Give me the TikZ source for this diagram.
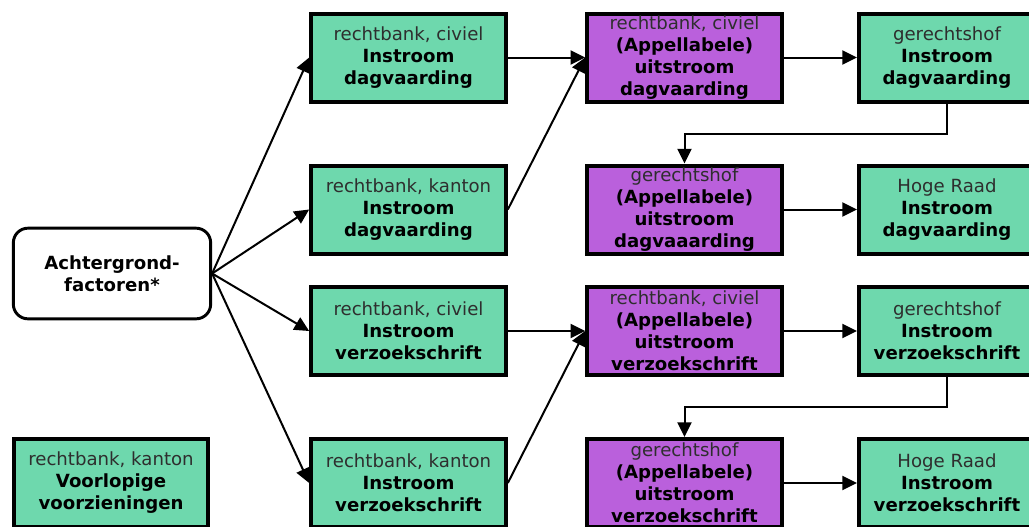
\documentclass[tikz,border=0pt]{standalone}
\usepackage{fontspec}
\setmainfont{DejaVu Sans}
\usepackage{xcolor}
\usepackage{tikz}
\usetikzlibrary{positioning, arrows.meta, calc}

\definecolor{instroomgreen}{HTML}{6ED8AD}
\definecolor{uitstroompurple}{HTML}{BA60DC}
\definecolor{courtgray}{HTML}{2E2E2E}

\begin{document}
\begin{tikzpicture}[
  x=0.75pt, y=-0.75pt,
  flowbox/.style={draw, line width=3pt, align=center, inner sep=1pt,
                  minimum height=66pt,
                  font=\fontsize{13.6}{16.5}\selectfont},
  instroom/.style={flowbox, fill=instroomgreen, minimum width=146pt},
  uitstroom/.style={flowbox, fill=uitstroompurple, minimum width=146pt},
  hrbox/.style={instroom, minimum width=132pt},
  startbox/.style={draw, line width=2.2pt, rounded corners=11pt, fill=white,
                   align=center, minimum width=148pt, minimum height=68pt,
                   font=\fontsize{13.6}{16.5}\selectfont\bfseries},
  arr/.style={-{Triangle[length=11pt, width=10.5pt]}, line width=1.5pt},
]
\useasboundingbox (0,0) rectangle (1029,526);
\clip (0,0) rectangle (1029,526);

\node[startbox] (achter) at (112,273.5) {Achtergrond-\\factoren*};

% instroom rechtbank
\node[instroom] (rb1) at (408.5,57.5) {{\color{courtgray}rechtbank, civiel}\\\textbf{Instroom}\\\textbf{dagvaarding}};
\node[instroom] (rb2) at (408.5,209.5) {{\color{courtgray}rechtbank, kanton}\\\textbf{Instroom}\\\textbf{dagvaarding}};
\node[instroom] (rb3) at (408.5,331) {{\color{courtgray}rechtbank, civiel}\\\textbf{Instroom}\\\textbf{verzoekschrift}};
\node[instroom] (rb4) at (408.5,483) {{\color{courtgray}rechtbank, kanton}\\\textbf{Instroom}\\\textbf{verzoekschrift}};
\node[instroom] (vv) at (111,483) {{\color{courtgray}rechtbank, kanton}\\\textbf{Voorlopige}\\\textbf{voorzieningen}};

% uitstroom
\node[uitstroom] (up1) at (684.5,57.5) {{\color{courtgray}rechtbank, civiel}\\\textbf{(Appellabele)}\\\textbf{uitstroom}\\\textbf{dagvaarding}};
\node[uitstroom] (up2) at (684.5,209.5) {{\color{courtgray}gerechtshof}\\\textbf{(Appellabele)}\\\textbf{uitstroom}\\\textbf{dagvaaarding}};
\node[uitstroom] (up3) at (684.5,331) {{\color{courtgray}rechtbank, civiel}\\\textbf{(Appellabele)}\\\textbf{uitstroom}\\\textbf{verzoekschrift}};
\node[uitstroom] (up4) at (684.5,483) {{\color{courtgray}gerechtshof}\\\textbf{(Appellabele)}\\\textbf{uitstroom}\\\textbf{verzoekschrift}};

% hoger beroep / cassatie
\node[hrbox] (gh1) at (947,57.5) {{\color{courtgray}gerechtshof}\\\textbf{Instroom}\\\textbf{dagvaarding}};
\node[hrbox] (hr2) at (947,209.5) {{\color{courtgray}Hoge Raad}\\\textbf{Instroom}\\\textbf{dagvaarding}};
\node[hrbox] (gh3) at (947,331) {{\color{courtgray}gerechtshof}\\\textbf{Instroom}\\\textbf{verzoekschrift}};
\node[hrbox] (hr4) at (947,483) {{\color{courtgray}Hoge Raad}\\\textbf{Instroom}\\\textbf{verzoekschrift}};

\foreach \n in {rb1,rb2,rb3,rb4}
  \draw[arr] (achter.east) -- (\n.west);

\draw[arr] (rb1) -- (up1);
\draw[arr] (rb2.east) -- (up1.west);
\draw[arr] (rb3) -- (up3);
\draw[arr] (rb4.east) -- (up3.west);

\draw[arr] (up1) -- (gh1);
\draw[arr] (up2) -- (hr2);
\draw[arr] (up3) -- (gh3);
\draw[arr] (up4) -- (hr4);

\draw[arr] (gh1.south) -- ++(0,30) -| (up2.north);
\draw[arr] (gh3.south) -- ++(0,30) -| (up4.north);
\end{tikzpicture}
\end{document}
